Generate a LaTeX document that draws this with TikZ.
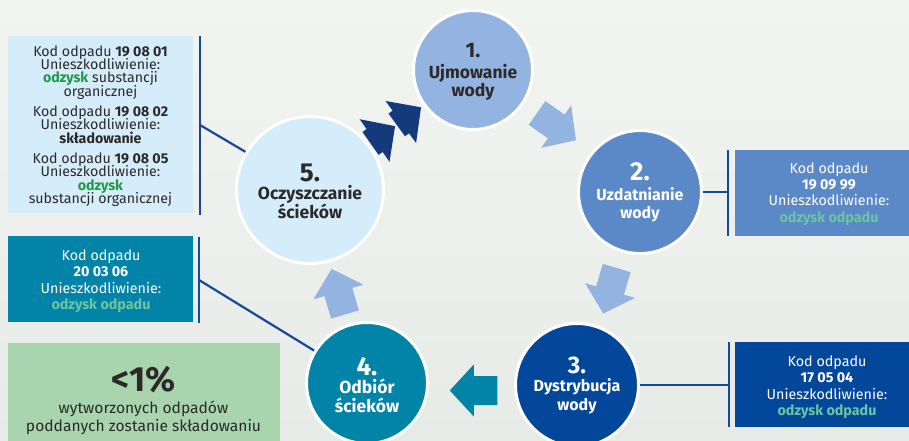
\documentclass[tikz,border=0pt]{standalone}
\usepackage{fontspec}
\setmainfont{Fira Sans}
\definecolor{bgtop}{HTML}{F2F4F0}
\definecolor{bgbot}{HTML}{E7EBE8}
\definecolor{lb}{HTML}{93B3E0}
\definecolor{mb}{HTML}{5B88C6}
\definecolor{db}{HTML}{02479A}
\definecolor{tealc}{HTML}{0284A8}
\definecolor{pale}{HTML}{D5ECFA}
\definecolor{grn}{HTML}{A8D5AE}
\definecolor{linec}{HTML}{16499A}
\definecolor{navy}{HTML}{153A7C}
\definecolor{txt}{HTML}{2B2A29}
\definecolor{okgreen}{HTML}{1E9A46}
\definecolor{mint}{HTML}{6DC4A0}
\tikzset{
  blockarr/.pic={\fill (0,-14.5) -- (23.5,-14.5) -- (23.5,-26) -- (47.5,0) -- (23.5,26) -- (23.5,14.5) -- (0,14.5) -- cycle;},
  chevarr/.pic={\fill (-5,-14) -- (0,-14) -- (0,-26) -- (25,0) -- (0,26) -- (0,14) -- (-5,14) -- cycle;}
}
\begin{document}
\lineskiplimit=-20pt
\begin{tikzpicture}[x=1pt,y=-1pt,
  circ/.style={circle, draw=white, line width=3pt, inner sep=0pt},
  ctext/.style={anchor=north, align=center, inner sep=0pt, font=\fontsize{17.5}{18.5}\selectfont\bfseries},
  ctextsm/.style={ctext, font=\fontsize{16}{18.5}\selectfont\bfseries},
  box/.style={rectangle, inner sep=0pt, draw=none},
  btext/.style={anchor=north, align=center, inner sep=0pt, font=\fontsize{14.3}{16.3}\selectfont},
  conn/.style={draw=linec, line width=2.2pt},
  bar/.style={draw=linec, line width=2.5pt},
]
\useasboundingbox (0,0) rectangle (909,440);
\clip (0,0) rectangle (909,440);
\shade[top color=bgtop, bottom color=bgbot] (0,0) rectangle (909,440);

% boxes
\node[box, fill=pale, minimum width=185pt, minimum height=177pt] (b1) at (100.5,124.5) {};
\node[box, fill=tealc, minimum width=185pt, minimum height=86pt] (b4) at (100.5,279) {};
\node[box, fill=grn, minimum width=272pt, minimum height=117pt] (g) at (144,401.5) {};
\node[box, fill=mb, minimum width=190pt, minimum height=86pt] (b2) at (830,193) {};
\node[box, fill=db, minimum width=190pt, minimum height=85pt] (b3) at (830,384.5) {};

% bars and junctions
\coordinate (p1a) at (200,36);  \coordinate (p1b) at (200,215); \coordinate (j1) at (200,125);
\coordinate (p4a) at (199,237); \coordinate (p4b) at (199,323); \coordinate (j4) at (199,280);
\coordinate (p2a) at (728,150); \coordinate (p2b) at (728,236); \coordinate (j2) at (728,192);
\coordinate (p3a) at (729,342); \coordinate (p3b) at (729,427); \coordinate (j3) at (729,385);
\draw[bar] (p1a) -- (p1b);
\draw[bar] (p4a) -- (p4b);
\draw[bar] (p2a) -- (p2b);
\draw[bar] (p3a) -- (p3b);

% circles
\node[circ, fill=lb, minimum size=119pt] (c1) at (473,70) {};
\node[circ, fill=mb, minimum size=123pt] (c2) at (640,192) {};
\node[circ, fill=db, minimum size=123pt] (c3) at (577,385) {};
\node[circ, fill=tealc, minimum size=121pt] (c4) at (367,383) {};
\node[circ, fill=pale, minimum size=147pt] (c5) at (310,190) {};

% connectors
\draw[conn] (j1) -- (c5);
\draw[conn] (j4) -- (c4);
\draw[conn] (c2) -- (j2);
\draw[conn] (c3) -- (j3);

% block arrows
\pic[fill=lb, rotate=-35] at (537,113) {blockarr};
\pic[fill=lb, rotate=-106.5] at (616.7,268) {blockarr};
\pic[fill=tealc, rotate=180] at (497.3,390.5) {blockarr};
\pic[fill=lb, rotate=106.4] at (345,314.5) {blockarr};
\pic[fill=navy, rotate=35] at (374.6,140.5) {chevarr};
\pic[fill=navy, rotate=36] at (400.8,122) {chevarr};

% circle texts
\node[ctext, text=txt] (t1) at (473,42.8) {{\fontsize{21}{21}\selectfont 1.}\\[2.5pt]Ujmowanie\\wody};
\node[ctextsm, text=white] (t2) at (640,162) {{\fontsize{26}{26}\selectfont 2.}\\[1.5pt]Uzdatnianie\\wody};
\node[ctextsm, text=white] (t3) at (577,356.7) {{\fontsize{24}{24}\selectfont 3.}\\Dystrybucja\\wody};
\node[ctext, text=white] (t4) at (367,357) {{\fontsize{26}{26}\selectfont 4.}\\Odbiór\\ścieków};
\node[ctext, text=txt] (t5) at (310,163.7) {{\fontsize{26}{26}\selectfont 5.}\\Oczyszczanie\\ścieków};

% box texts
\node[btext, text=txt, font=\fontsize{14.2}{13.3}\selectfont] (bt1) at (100.5,45.5)
 {Kod odpadu \textbf{19 08 01}\\Unieszkodliwienie:\\\textcolor{okgreen}{\textbf{odzysk}} substancji\\organicznej\\[7pt]%
  Kod odpadu \textbf{19 08 02}\\Unieszkodliwienie:\\\textbf{składowanie}\\[7pt]%
  Kod odpadu \textbf{19 08 05}\\Unieszkodliwienie:\\\textcolor{okgreen}{\textbf{odzysk}}\\substancji organicznej};
\node[btext, text=white] (bt2) at (829,162.2) {Kod odpadu\\\textbf{19 09 99}\\Unieszkodliwienie:\\\textcolor{mint}{\textbf{odzysk odpadu}}};
\node[btext, text=white] (bt3) at (827,355.5) {Kod odpadu\\\textbf{17 05 04}\\Unieszkodliwienie:\\\textcolor{mint}{\textbf{odzysk odpadu}}};
\node[btext, text=white] (bt4) at (101,249.5) {Kod odpadu\\\textbf{20 03 06}\\Unieszkodliwienie:\\\textcolor{mint}{\textbf{odzysk odpadu}}};
\node[btext, text=txt, font=\fontsize{15.6}{18.4}\selectfont] (gt) at (143.5,366)
 {{\fontsize{35}{35}\selectfont\bfseries <1\%}\\[3.6pt]wytworzonych odpadów\\poddanych zostanie składowaniu};
\end{tikzpicture}
\end{document}
